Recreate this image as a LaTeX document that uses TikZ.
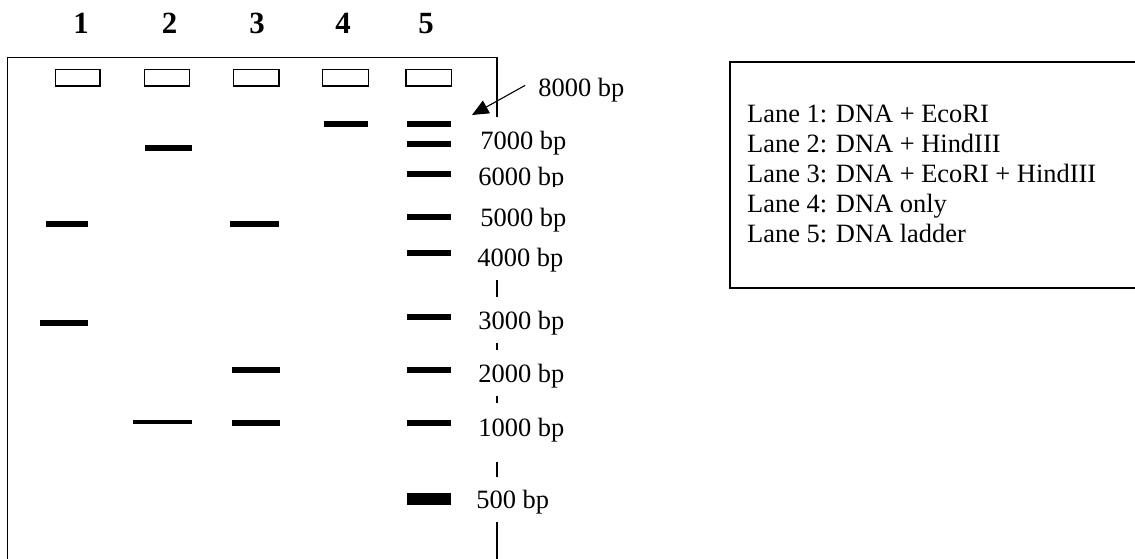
\documentclass[tikz,border=0pt]{standalone}
\usepackage{fontspec}
\setmainfont{Liberation Serif}
\usepackage{tikz}
\usetikzlibrary{arrows.meta}

\tikzset{
    gel/.style={line width=0.7pt},
    well/.style={line width=0.7pt},
    band/.style={line width=2.7pt},
    faintband/.style={line width=1.8pt},
    bigband/.style={line width=5.4pt},
    bp/.style={anchor=base west, inner sep=0pt, font=\fontsize{12}{14}\selectfont},
    lanenum/.style={anchor=base, inner sep=0pt, font=\fontsize{14}{16}\selectfont\bfseries},
}

\begin{document}
\begin{tikzpicture}[x=0.454pt, y=-0.454pt]
    \useasboundingbox (0,0) rectangle (1135,559);

    % Lane numbers
    \node[lanenum] (num1) at (81,33.3) {1};
    \node[lanenum] (num2) at (169.5,33.3) {2};
    \node[lanenum] (num3) at (257,33.3) {3};
    \node[lanenum] (num4) at (343,33.3) {4};
    \node[lanenum] (num5) at (426,33.3) {5};

    % Gel outline
    \draw[gel] (7.5,570) |- (53,57.3);
    \draw[gel] (453,57.3) -| (497,117);
    \draw[line width=0.45pt] (53,57.3) -- (453,57.3);
    % right edge, broken by the size labels
    \draw[gel] (497,280) -- (497,297);
    \draw[gel] (497,343) -- (497,350);
    \draw[gel] (497,396) -- (497,403);
    \draw[gel] (497,462) -- (497,477);
    \draw[gel] (497,522) -- (497,570);

    % Wells
    \draw[well] (55.7,69.3) rectangle (100,86);
    \draw[well] (144.3,69.3) rectangle (189.3,86);
    \draw[well] (233.3,69.3) rectangle (279,86);
    \draw[well] (322.7,69.3) rectangle (368.3,86);
    \draw[well] (406,69.3) rectangle (451.7,86);

    % Lane 1: EcoRI
    \draw[band] (46,224) -- (88,224);
    \draw[band] (40,322.7) -- (88,322.7);
    % Lane 2: HindIII
    \draw[band] (145,148) -- (192,148);
    \draw[faintband] (133,422) -- (192,422);
    % Lane 3: EcoRI + HindIII
    \draw[band] (230,224) -- (279,224);
    \draw[band] (232,370) -- (280,370);
    \draw[band] (232,422.7) -- (280,422.7);
    % Lane 4: uncut
    \draw[band] (324,124.3) -- (368,124.3);

    % Lane 5: ladder
    \draw[band] (407,124.3) -- (451,124.3);
    \draw[band] (407,144.3) -- (451,144.3);
    \draw[band] (407,174) -- (451,174);
    \draw[band] (407,217.3) -- (451,217.3);
    \draw[band] (407,252.7) -- (451,252.7);
    \draw[band] (407,316.7) -- (451,316.7);
    \draw[band] (407,370) -- (451,370);
    \draw[band] (407,422.7) -- (451,422.7);
    \draw[bigband] (407,499) -- (451,499);

    % Ladder sizes (the 5000 box hides the foot of 6000)
    \node[bp] (l8000) at (538,97) {8000 bp};
    \node[bp] (l7000) at (480,150) {7000 bp};
    \node[bp] (l6000) at (478,186) {6000 bp};
    \node[bp, fill=white, text height=18.2pt] (l5000) at (480,227) {5000 bp};
    \node[bp] (l4000) at (477,267) {4000 bp};
    \node[bp] (l3000) at (478,330) {3000 bp};
    \node[bp] (l2000) at (478,383) {2000 bp};
    \node[bp] (l1000) at (478,437) {1000 bp};
    \node[bp] (l500) at (476,509) {500 bp};

    % Arrow to the top ladder band
    \coordinate (tip8000) at (472,115);
    \draw[line width=0.5pt, -{Triangle[length=7.5pt, width=6.5pt]}, shorten <=6.7pt]
        (l8000.north west) -- (tip8000);

    % Legend
    \draw[gel] (730,62) rectangle (1150,288);
    \node[bp] (leg1) at (746.7,123) {Lane 1: DNA + EcoRI};
    \node[bp] (leg2) at (746.7,153) {Lane 2: DNA + HindIII};
    \node[bp] (leg3) at (746.7,183) {Lane 3: DNA + EcoRI + HindIII};
    \node[bp] (leg4) at (746.7,213) {Lane 4: DNA only};
    \node[bp] (leg5) at (746.7,243) {Lane 5: DNA ladder};
\end{tikzpicture}
\end{document}
